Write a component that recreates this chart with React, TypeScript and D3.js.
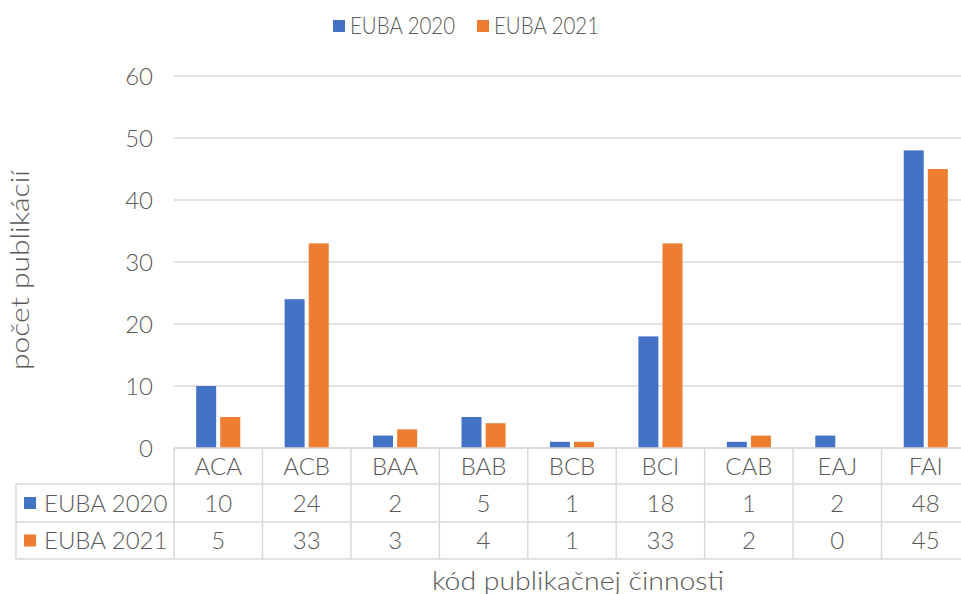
import React from 'react';
import * as d3 from 'd3';

const categories = ['ACA', 'ACB', 'BAA', 'BAB', 'BCB', 'BCI', 'CAB', 'EAJ', 'FAI'];
const seriesNames = ['EUBA 2020', 'EUBA 2021'];
const euba2020 = [10, 24, 2, 5, 1, 18, 1, 2, 48];
const euba2021 = [5, 33, 3, 4, 1, 33, 2, 0, 45];
const yTicks = [0, 10, 20, 30, 40, 50, 60];
const colors = ['#4472C4', '#ED7D31'];

const W = 961;
const H = 594;
const plotLeft = 174;
const plotRight = 970; // the plot area runs past the picture edge
const plotTop = 76;
const plotBottom = 448;
const rowEdges = [448, 484, 522, 559];
const tableLeft = 16;
const font = 'Lato, "Open Sans", sans-serif';
const textColor = '#595959';
const lineColor = '#d9d9d9';
const fs = 24;

const App: React.FC = () => {
  const seriesValues = [euba2020, euba2021];

  const x = d3.scaleBand<string>().domain(categories).range([plotLeft, plotRight]).paddingInner(0);
  const xInner = d3
    .scaleBand<string>()
    .domain(seriesNames)
    .range([0, x.bandwidth()])
    .paddingInner(0.17)
    .paddingOuter(0.92);
  const y = d3.scaleLinear().domain([0, 60]).range([plotBottom, plotTop]);

  const rowMid = (i: number) => (rowEdges[i] + rowEdges[i + 1]) / 2;

  return (
    <svg
      width={W}
      height={H}
      style={{ position: 'absolute', left: 0, top: 0, background: '#fff' }}
      fontFamily={font}
      fontWeight={300}
    >
      {/* legend */}
      <g>
        <rect x={333} y={20} width={12} height={12} fill={colors[0]} />
        <text x={350} y={34} fontSize={23} fill={textColor} textLength={105} lengthAdjust="spacingAndGlyphs">
          {seriesNames[0]}
        </text>
        <rect x={477} y={20} width={12} height={12} fill={colors[1]} />
        <text x={494} y={34} fontSize={23} fill={textColor} textLength={105} lengthAdjust="spacingAndGlyphs">
          {seriesNames[1]}
        </text>
      </g>

      {/* gridlines + y ticks */}
      {yTicks.map((t) => (
        <g key={t}>
          <line x1={plotLeft} x2={plotRight} y1={y(t)} y2={y(t)} stroke={lineColor} strokeWidth={1.3} />
          <text x={153} y={y(t)} dy="0.36em" textAnchor="end" fontSize={fs} fill={textColor}>
            {t}
          </text>
        </g>
      ))}

      {/* bars */}
      {seriesValues.map((vals, si) =>
        vals.map((v, ci) => (
          <rect
            key={`${si}-${ci}`}
            x={(x(categories[ci]) ?? 0) + (xInner(seriesNames[si]) ?? 0)}
            y={y(v)}
            width={xInner.bandwidth()}
            height={plotBottom - y(v)}
            fill={colors[si]}
          />
        )),
      )}

      {/* data table lines */}
      <g stroke={lineColor} strokeWidth={1.5} fill="none">
        <line x1={plotLeft} x2={plotRight} y1={rowEdges[0]} y2={rowEdges[0]} />
        {rowEdges.slice(1).map((r) => (
          <line key={r} x1={tableLeft} x2={plotRight} y1={r} y2={r} />
        ))}
        <line x1={tableLeft} x2={tableLeft} y1={rowEdges[1]} y2={rowEdges[3]} />
        {categories.map((c) => (
          <line key={c} x1={x(c) ?? 0} x2={x(c) ?? 0} y1={rowEdges[0]} y2={rowEdges[3]} />
        ))}
      </g>

      {/* category labels */}
      {categories.map((c) => (
        <text
          key={c}
          x={(x(c) ?? 0) + x.bandwidth() / 2}
          y={rowMid(0)}
          dy="0.36em"
          textAnchor="middle"
          fontSize={fs}
          fill={textColor}
        >
          {c}
        </text>
      ))}

      {/* series rows */}
      {seriesValues.map((vals, si) => (
        <g key={si}>
          <rect x={24} y={rowMid(si + 1) - 6} width={12} height={12} fill={colors[si]} />
          <text x={44} y={rowMid(si + 1)} dy="0.36em" fontSize={fs} fill={textColor}>
            {seriesNames[si]}
          </text>
          {vals.map((v, ci) => (
            <text
              key={ci}
              x={(x(categories[ci]) ?? 0) + x.bandwidth() / 2}
              y={rowMid(si + 1)}
              dy="0.36em"
              textAnchor="middle"
              fontSize={fs}
              fill={textColor}
            >
              {v}
            </text>
          ))}
        </g>
      ))}

      {/* axis titles */}
      <text
        transform="translate(29,270) rotate(-90)"
        textAnchor="middle"
        fontSize={25}
        fill={textColor}
        textLength={200}
        lengthAdjust="spacingAndGlyphs"
      >
        počet publikácií
      </text>
      <text
        x={578}
        y={590}
        textAnchor="middle"
        fontSize={25}
        fill={textColor}
        textLength={292}
        lengthAdjust="spacingAndGlyphs"
      >
        kód publikačnej činnosti
      </text>
    </svg>
  );
};

export default App;
